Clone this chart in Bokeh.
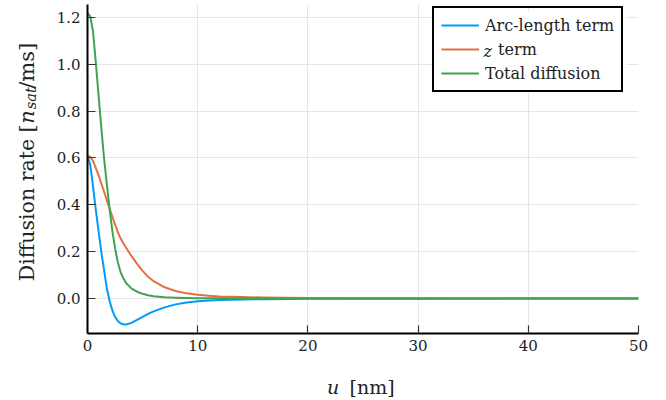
import math
from bokeh.plotting import figure
from bokeh.models import Range1d, FixedTicker, Legend, LegendItem, Label, BoxAnnotation
from bokeh.layouts import row, column
from bokeh.embed import file_html
from bokeh.resources import INLINE

# ---- data ----
u = [0, 0.25, 0.5, 0.75, 1.0, 1.25, 1.5, 1.75, 2.0, 2.25, 2.5, 2.75, 3.0, 3.25, 3.5,
     4.0, 4.5, 5.0, 5.5, 6.0, 7.0, 8.0, 9.0, 10, 11, 12, 14, 16, 18, 20, 25, 30, 40, 50]
arc_length = [0.610, 0.570, 0.480, 0.380, 0.290, 0.200, 0.122, 0.045, -0.010, -0.050,
              -0.078, -0.096, -0.106, -0.110, -0.111, -0.104, -0.091, -0.078, -0.066, -0.055,
              -0.038, -0.025, -0.017, -0.012, -0.008, -0.006, -0.004, -0.003, -0.002, -0.0015,
              -0.001, -0.0005, -0.0002, -0.0001]
z_term = [0.610, 0.605, 0.588, 0.558, 0.527, 0.492, 0.457, 0.420, 0.385, 0.350,
          0.316, 0.284, 0.257, 0.236, 0.217, 0.181, 0.148, 0.118, 0.093, 0.074,
          0.048, 0.032, 0.022, 0.016, 0.012, 0.009, 0.006, 0.004, 0.003, 0.0022,
          0.0012, 0.0007, 0.0003, 0.0002]
total = [1.220, 1.205, 1.140, 1.010, 0.870, 0.730, 0.600, 0.490, 0.385, 0.290,
         0.215, 0.155, 0.113, 0.086, 0.066, 0.042, 0.029, 0.020, 0.014, 0.010,
         0.005, 0.003, 0.002, 0.0015, 0.001, 0.0008, 0.0005, 0.0003, 0.0002, 0.00015,
         0.0001, 0.00005, 0.00002, 0.00001]

series_names = ["Arc-length term", "\u2002 term", "Total diffusion"]  # "z" drawn in italics on top
x_ticks = [0, 10, 20, 30, 40, 50]
y_ticks = [0.0, 0.2, 0.4, 0.6, 0.8, 1.0, 1.2]
y_tick_labels = ["0.0", "0.2", "0.4", "0.6", "0.8", "1.0", "1.2"]

colors = ["#009AFA", "#E36F47", "#3EA44E"]
SERIF = "DejaVu Serif"
TXT = "#222222"

W, H = 666, 400
LW = 45          # width of the left label strip
BH = 40          # height of the bottom label strip
MW, MH = W - LW, H - BH

# ---------------- main plot ----------------
p = figure(width=MW, height=MH, output_backend="svg", toolbar_location=None,
           x_range=Range1d(0, 50), y_range=Range1d(-0.1494, 1.2553),
           min_border_left=87 - LW, min_border_right=28, min_border_top=4,
           min_border_bottom=MH - 333)
p.outline_line_color = None
p.background_fill_color = "white"
p.border_fill_color = "white"

renderers = []
for ys, c in zip([arc_length, z_term, total], colors):
    renderers.append(p.line(u, ys, line_color=c, line_width=2, line_join="round"))

for ax in (p.xaxis[0], p.yaxis[0]):
    ax.axis_line_width = 2
    ax.axis_line_color = "black"
    ax.major_tick_in = 8
    ax.major_tick_out = 0
    ax.major_tick_line_color = "#333333"
    ax.major_tick_line_width = 1.2
    ax.minor_tick_line_color = None
    ax.major_label_text_font = SERIF
    ax.major_label_text_font_size = "15px"
    ax.major_label_text_color = TXT

p.xaxis.ticker = FixedTicker(ticks=x_ticks)
p.yaxis.ticker = FixedTicker(ticks=y_ticks)
p.yaxis.major_label_overrides = {t: s for t, s in zip(y_ticks, y_tick_labels)}
p.xaxis.major_label_standoff = 6
p.yaxis.major_label_standoff = 7

p.xgrid.ticker = FixedTicker(ticks=x_ticks)
p.ygrid.ticker = FixedTicker(ticks=y_ticks)
p.grid.grid_line_color = "#e6e6e6"
p.grid.grid_line_width = 1

# legend, bottom-left corner given in frame pixels
PAD, LH, SP, GW, SO = 7, 20, 4, 38, 6
leg_h = 2 * PAD + 3 * LH + 2 * SP
leg_w = 194
leg_left, leg_bottom = 345, 329 - 6 - leg_h
# white backing behind the (transparent) legend so grid lines do not show through
p.add_layout(BoxAnnotation(left=leg_left, right=leg_left + leg_w, bottom=leg_bottom,
                           top=leg_bottom + leg_h, left_units="screen", right_units="screen",
                           bottom_units="screen", top_units="screen",
                           fill_color="white", fill_alpha=1.0, line_color=None,
                           level="underlay"))
legend = Legend(items=[LegendItem(label=n, renderers=[r]) for n, r in zip(series_names, renderers)],
                location=(leg_left, leg_bottom), padding=PAD, spacing=SP,
                label_standoff=SO, glyph_width=GW, glyph_height=LH, label_height=LH,
                label_text_font=SERIF, label_text_font_size="16px",
                label_text_color=TXT,
                border_line_color="black", border_line_width=2, border_line_alpha=1.0,
                background_fill_alpha=0.0)
p.add_layout(legend)
p.add_layout(Label(x=leg_left + PAD + GW + SO, y=leg_bottom + leg_h - PAD - LH - SP - LH / 2,
                   x_units="screen", y_units="screen", text="z", text_font=SERIF,
                   text_font_style="italic", text_font_size="16px", text_color=TXT,
                   text_align="left", text_baseline="middle", level="overlay"))


def strip(width, height):
    f = figure(width=width, height=height, output_backend="svg", toolbar_location=None,
               x_range=Range1d(0, width), y_range=Range1d(0, height),
               x_axis_location=None, y_axis_location=None,
               min_border=0, min_border_left=0, min_border_right=0,
               min_border_top=0, min_border_bottom=0)
    f.outline_line_color = None
    f.background_fill_color = "white"
    f.border_fill_color = "white"
    f.grid.visible = False
    return f


def lab(f, x, y, text, size, italic=False, angle=0.0, align="left"):
    # x, y: pixel position inside the strip, measured from its top-left corner
    f.add_layout(Label(x=x, y=f.height - y, text=text, angle=angle, text_font=SERIF,
                       text_font_style="italic" if italic else "normal",
                       text_font_size=size, text_color=TXT,
                       text_align=align, text_baseline="alphabetic"))


# ---------------- left strip: y axis label ----------------
pl = strip(LW, MH)
ang = math.pi / 2
bx = 26
lab(pl, bx, 217, "Diffusion rate [", "20.5px", angle=ang, align="center")
lab(pl, bx, 123, "n", "21px", italic=True, angle=ang, align="center")
lab(pl, bx + 4, 102.5, "sat", "14.5px", italic=True, angle=ang, align="center")
lab(pl, bx, 67, "/ms]", "21px", angle=ang, align="center")

# ---------------- bottom strip: x axis label ----------------
pb = strip(W, BH)
lab(pb, 326.5, 386 - MH, "u", "19px", italic=True)
lab(pb, 349, 386 - MH, "[nm]", "19px")

layout = column(row(pl, p, spacing=0), pb, spacing=0)
open("out.html", "w").write(file_html(layout, INLINE))
